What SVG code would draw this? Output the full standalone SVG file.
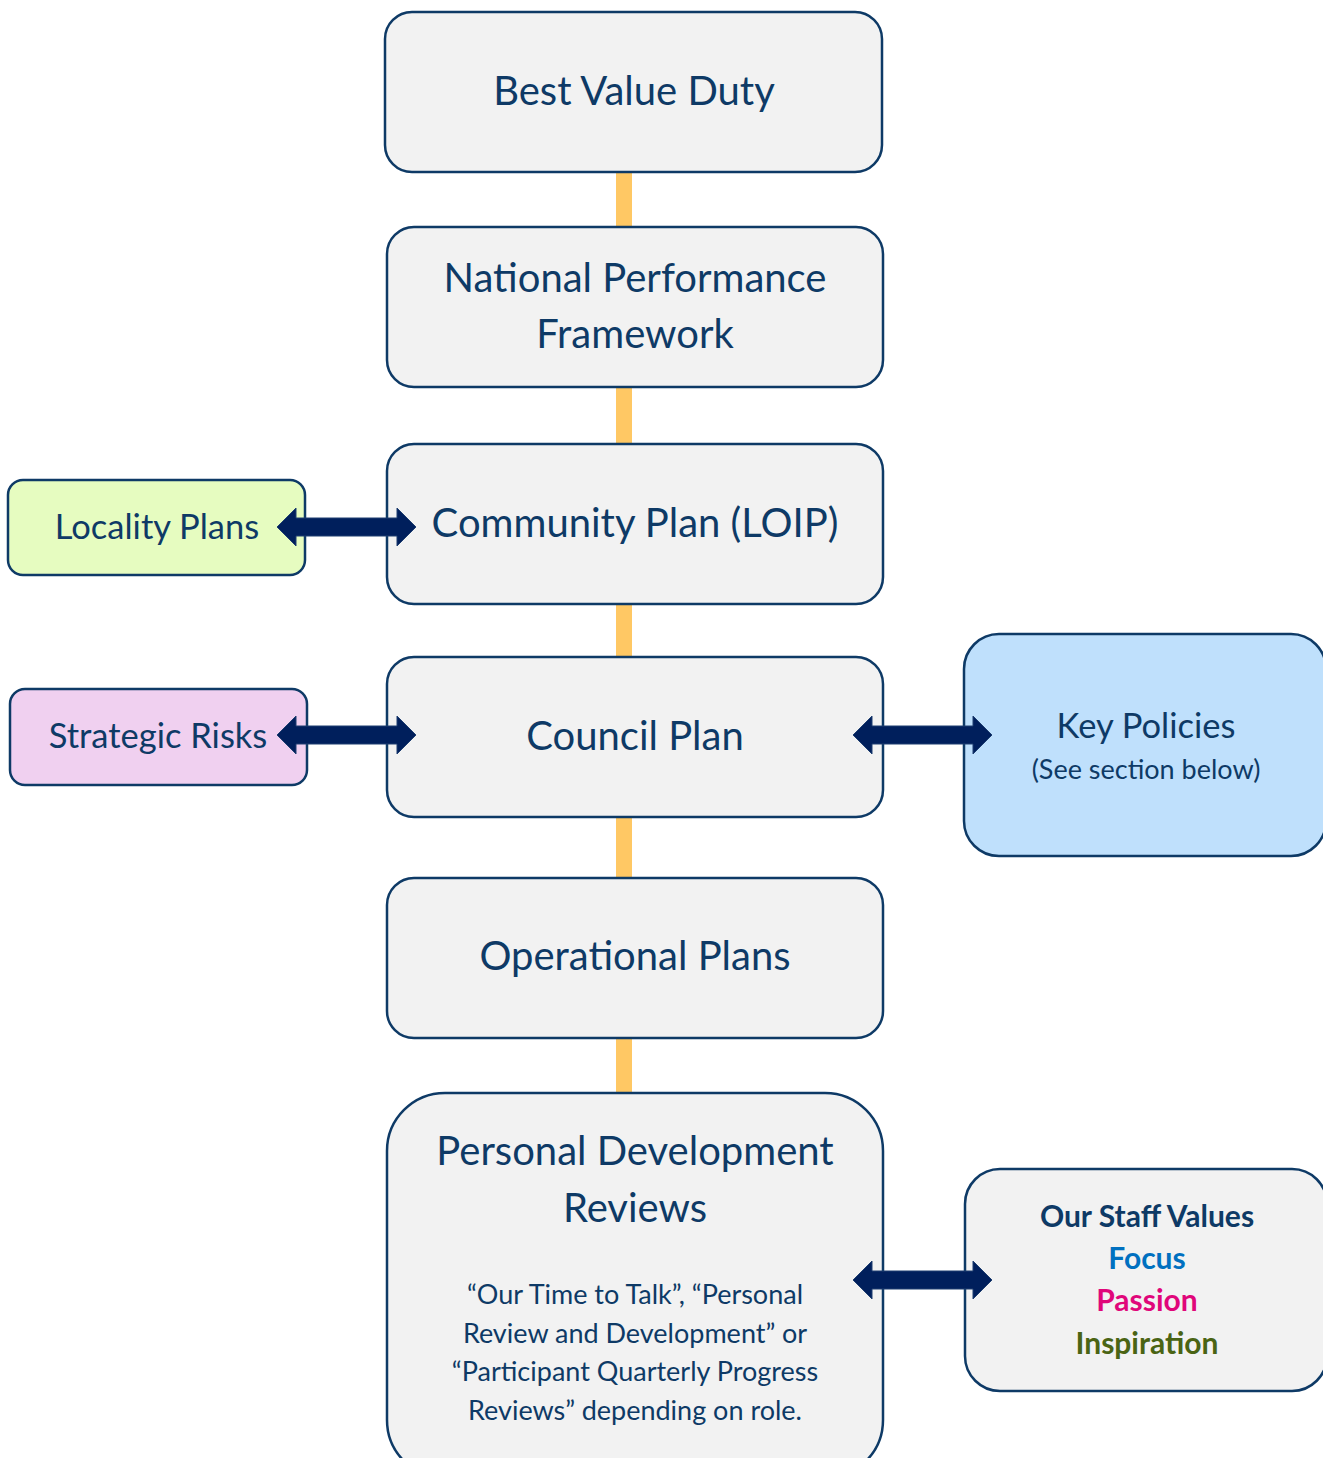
<svg xmlns="http://www.w3.org/2000/svg" width="1323" height="1458" viewBox="0 0 1323 1458">
<style>
.box{fill:#f2f2f2;stroke:#0e3a66;stroke-width:2.5}
.t{font-family:Lato,"Open Sans",sans-serif;fill:#0e3a66;text-anchor:middle}
.big{font-size:40px}
.mid{font-size:34.5px}
.sm{font-size:27px}
.bold{font-weight:bold;font-size:30px}
.conn{fill:#ffc864}
.arr{fill:#001f5c;stroke:#1f3f70;stroke-width:1}
</style>
<rect width="1323" height="1458" fill="#ffffff"/>
<g id="connectors">
<rect class="conn" x="616" y="172" width="16" height="56"/>
<rect class="conn" x="616" y="387" width="16" height="58"/>
<rect class="conn" x="616" y="604" width="16" height="54"/>
<rect class="conn" x="616" y="817" width="16" height="62"/>
<rect class="conn" x="616" y="1038" width="16" height="56"/>
</g>
<g id="best-value">
<rect class="box" x="385" y="12" width="497" height="160" rx="27"/>
<text class="t big" x="634" y="105">Best Value Duty</text>
</g>
<g id="npf">
<rect class="box" x="387" y="227" width="496" height="160" rx="27"/>
<text class="t big" x="635" y="292">National Performance</text>
<text class="t big" x="635" y="348">Framework</text>
</g>
<g id="community">
<rect class="box" x="387" y="444" width="496" height="160" rx="27"/>
<text class="t big" x="635" y="537">Community Plan (LOIP)</text>
</g>
<g id="council">
<rect class="box" x="387" y="657" width="496" height="160" rx="27"/>
<text class="t big" x="635" y="750">Council Plan</text>
</g>
<g id="operational">
<rect class="box" x="387" y="878" width="496" height="160" rx="27"/>
<text class="t big" x="635" y="970">Operational Plans</text>
</g>
<g id="pdr">
<rect class="box" x="387" y="1093" width="496" height="385" rx="58"/>
<text class="t big" x="635" y="1165">Personal Development</text>
<text class="t big" x="635" y="1222">Reviews</text>
<text class="t sm" x="635" y="1304">“Our Time to Talk”, “Personal</text>
<text class="t sm" x="635" y="1343">Review and Development” or</text>
<text class="t sm" x="635" y="1381">“Participant Quarterly Progress</text>
<text class="t sm" x="635" y="1420">Reviews” depending on role.</text>
</g>
<g id="locality">
<rect class="box" style="fill:#e6fcc0" x="8" y="480" width="297" height="95" rx="15"/>
<text class="t mid" x="157" y="539">Locality Plans</text>
</g>
<g id="risks">
<rect class="box" style="fill:#f0d0f0" x="10" y="689" width="297" height="96" rx="15"/>
<text class="t mid" x="158" y="748">Strategic Risks</text>
</g>
<g id="key-policies">
<rect class="box" style="fill:#bfe0fc" x="964" y="634" width="362" height="222" rx="35"/>
<text class="t mid" x="1146" y="738">Key Policies</text>
<text class="t sm" x="1146" y="779">(See section below)</text>
</g>
<g id="staff-values">
<rect class="box" x="965" y="1169" width="362" height="222" rx="35"/>
<text class="t bold" x="1147" y="1227">Our Staff Values</text>
<text class="t bold" x="1147" y="1269" style="fill:#0070c0">Focus</text>
<text class="t bold" x="1147" y="1311" style="fill:#e0067a">Passion</text>
<text class="t bold" x="1147" y="1354" style="fill:#4a6414">Inspiration</text>
</g>
<g id="arrows">
<polygon class="arr" points="277,527 296,508 296,518 397,518 397,508 416,527 397,546 397,536 296,536 296,546"/>
<polygon class="arr" points="277,735 296,716 296,726 397,726 397,716 416,735 397,754 397,744 296,744 296,754"/>
<polygon class="arr" points="853,735 872,716 872,726 973,726 973,716 992,735 973,754 973,744 872,744 872,754"/>
<polygon class="arr" points="853,1280 872,1261 872,1271 973,1271 973,1261 992,1280 973,1299 973,1289 872,1289 872,1299"/>
</g>
</svg>
